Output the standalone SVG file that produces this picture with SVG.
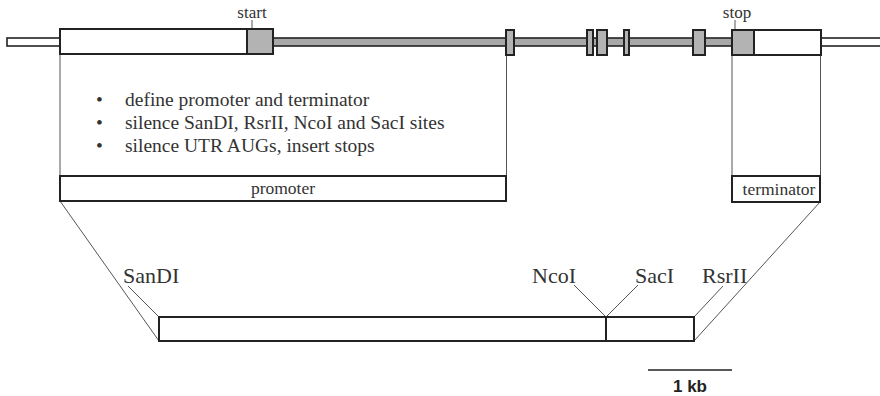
<svg xmlns="http://www.w3.org/2000/svg" width="880" height="396" viewBox="0 0 880 396">
<style>
.box{fill:#fff;stroke:#222;stroke-width:2}
.ex{fill:#b3b3b3;stroke:#222;stroke-width:2}
.bar{fill:#fff;stroke:#222;stroke-width:1.6}
.gbar{fill:#a8a8a8;stroke:#222;stroke-width:1.6}
.thin{stroke:#555;stroke-width:1;fill:none}
.t{font-family:"Liberation Serif","Times New Roman",serif;fill:#333}
.s{font-family:"Liberation Sans",Arial,sans-serif;font-weight:bold;fill:#222}
</style>
<rect width="880" height="396" fill="#fff"/>
<g id="connectors">
<line class="thin" x1="60" y1="54" x2="60" y2="176"/>
<line class="thin" x1="506.5" y1="55" x2="506.5" y2="176"/>
<line class="thin" x1="732" y1="55" x2="732" y2="176"/>
<line class="thin" x1="820.5" y1="55" x2="820.5" y2="176"/>
<line class="thin" x1="252" y1="20" x2="252" y2="29"/>
<line class="thin" x1="735" y1="20" x2="735" y2="29"/>
<line class="thin" x1="60" y1="201" x2="159" y2="341"/>
<line class="thin" x1="820" y1="202" x2="694" y2="341"/>
<line class="thin" x1="128" y1="286" x2="159" y2="317"/>
<line class="thin" x1="574" y1="285" x2="606" y2="317"/>
<line class="thin" x1="638" y1="285" x2="606" y2="317"/>
<line class="thin" x1="723" y1="286" x2="694" y2="317"/>
</g>
<g id="gene">
<rect class="bar" x="7" y="38" width="53" height="8"/>
<rect class="bar" x="821" y="38" width="62" height="8"/>
<rect class="gbar" x="273" y="38" width="459" height="8"/>
<rect class="box" x="60" y="29" width="187" height="25"/>
<rect class="ex" x="247" y="29" width="26" height="25"/>
<rect class="ex" x="506" y="30" width="8" height="25"/>
<rect class="ex" x="587" y="30" width="6" height="25"/>
<rect class="ex" x="597" y="30" width="10" height="25"/>
<rect class="ex" x="624" y="30" width="5" height="25" fill="#888"/>
<rect class="ex" x="693" y="30" width="12" height="25"/>
<rect class="ex" x="732" y="30" width="22" height="25"/>
<rect class="box" x="754" y="30" width="67" height="25"/>
</g>
<g id="start-label"><text class="t" x="252" y="18" font-size="17" text-anchor="middle">start</text></g>
<g id="stop-label"><text class="t" x="737" y="18" font-size="17" text-anchor="middle">stop</text></g>
<g id="notes" class="t" font-size="19.5">
<text x="96" y="106">•</text><text x="125" y="106">define promoter and terminator</text>
<text x="96" y="129">•</text><text x="125" y="129">silence SanDI, RsrII, NcoI and SacI sites</text>
<text x="96" y="152">•</text><text x="125" y="152">silence UTR AUGs, insert stops</text>
</g>
<g id="promoter">
<rect class="box" x="60" y="176" width="446" height="25"/>
<text class="t" x="283" y="194" font-size="17.5" text-anchor="middle">promoter</text>
</g>
<g id="terminator">
<rect class="box" x="732" y="176" width="88" height="26"/>
<text class="t" x="779" y="195" font-size="17.5" text-anchor="middle">terminator</text>
</g>
<g id="construct">
<rect class="box" x="159" y="317" width="447" height="24"/>
<rect class="box" x="606" y="317" width="88" height="24"/>
</g>
<g id="sites" class="t" font-size="22">
<text x="123" y="283">SanDI</text>
<text x="532" y="283">NcoI</text>
<text x="635" y="283">SacI</text>
<text x="702" y="283">RsrII</text>
</g>
<g id="scale">
<line x1="648" y1="370" x2="732" y2="370" stroke="#222" stroke-width="1.5"/>
<text class="s" x="690" y="392" font-size="17" text-anchor="middle">1 kb</text>
</g>
</svg>
